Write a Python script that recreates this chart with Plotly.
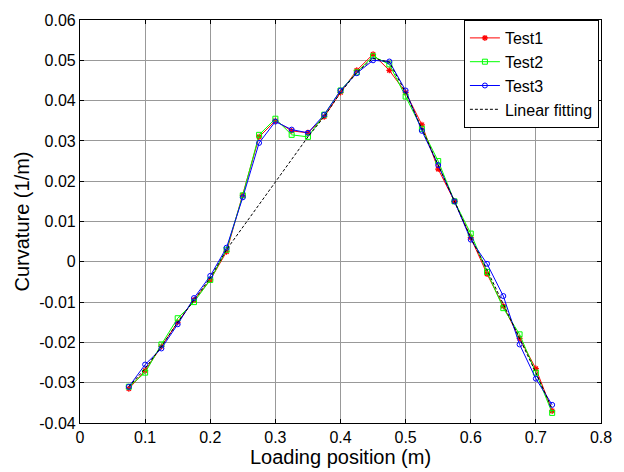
import plotly.graph_objects as go

x = [0.075, 0.1, 0.125, 0.15, 0.175, 0.2, 0.225, 0.25, 0.275, 0.3, 0.325, 0.35, 0.375,
     0.4, 0.425, 0.45, 0.475, 0.5, 0.525, 0.55, 0.575, 0.6, 0.625, 0.65, 0.675, 0.7, 0.725]

test1 = [-0.0315, -0.027, -0.021, -0.015, -0.0095, -0.0045, 0.0025, 0.0165, 0.031, 0.035,
         0.0325, 0.032, 0.036, 0.042, 0.0475, 0.0515, 0.0475, 0.042, 0.034, 0.023, 0.015,
         0.006, -0.003, -0.011, -0.019, -0.0265, -0.037]
test2 = [-0.031, -0.0275, -0.0205, -0.014, -0.010, -0.0045, 0.003, 0.0165, 0.0315, 0.0355,
         0.0315, 0.031, 0.0365, 0.0425, 0.047, 0.051, 0.049, 0.041, 0.033, 0.025, 0.015,
         0.007, -0.0025, -0.0115, -0.018, -0.0275, -0.0375]
test3 = [-0.031, -0.0255, -0.0215, -0.0155, -0.009, -0.0035, 0.0035, 0.016, 0.0295, 0.0348,
         0.0328, 0.032, 0.0365, 0.0425, 0.0468, 0.050, 0.0497, 0.0425, 0.0325, 0.024, 0.015,
         0.0055, -0.0005, -0.0085, -0.0205, -0.029, -0.0355]

x_fit = [0.075, 0.1, 0.125, 0.15, 0.175, 0.2, 0.225, 0.35, 0.375, 0.4, 0.425, 0.45, 0.475,
         0.5, 0.525, 0.55, 0.575, 0.6, 0.625, 0.65, 0.675, 0.7, 0.725]
y_fit = [-0.031, -0.0265, -0.021, -0.015, -0.0095, -0.004, 0.003, 0.031, 0.036, 0.042,
         0.047, 0.0505, 0.0495, 0.042, 0.033, 0.024, 0.015, 0.006, -0.002, -0.0105, -0.019,
         -0.0275, -0.0365]

x_ticks = [0, 0.1, 0.2, 0.3, 0.4, 0.5, 0.6, 0.7, 0.8]
x_labels = ["0", "0.1", "0.2", "0.3", "0.4", "0.5", "0.6", "0.7", "0.8"]
y_ticks = [-0.04, -0.03, -0.02, -0.01, 0, 0.01, 0.02, 0.03, 0.04, 0.05, 0.06]
y_labels = ["-0.04", "-0.03", "-0.02", "-0.01", "0", "0.01", "0.02", "0.03", "0.04", "0.05", "0.06"]

fig = go.Figure()
fig.add_trace(go.Scatter(x=x, y=test1, name="Test1", mode="lines+markers",
                         line=dict(color="#ff0000", width=1),
                         marker=dict(symbol="asterisk-open", size=5,
                                     line=dict(color="#ff0000", width=1.2))))
fig.add_trace(go.Scatter(x=x, y=test2, name="Test2", mode="lines+markers",
                         line=dict(color="#00ff00", width=1),
                         marker=dict(symbol="square-open", size=5, color="#00ff00",
                                     line=dict(color="#00ff00", width=1))))
fig.add_trace(go.Scatter(x=x, y=test3, name="Test3", mode="lines+markers",
                         line=dict(color="#0000ff", width=1),
                         marker=dict(symbol="circle-open", size=5, color="#0000ff",
                                     line=dict(color="#0000ff", width=1))))
fig.add_trace(go.Scatter(x=x_fit, y=y_fit, name="Linear fitting", mode="lines",
                         line=dict(color="#000000", width=1, dash="3px,2px")))

axis_common = dict(showline=True, linecolor="black", linewidth=1.2, mirror="ticks",
                   ticks="inside", ticklen=4, tickcolor="black", showgrid=True,
                   gridcolor="#999999", gridwidth=1, zeroline=False,
                   tickfont=dict(family="Arial", size=16, color="black"))

fig.update_layout(
    width=624, height=472,
    margin=dict(l=80, r=13, t=16, b=45),
    paper_bgcolor="white", plot_bgcolor="white",
    font=dict(family="Arial", size=16, color="black"),
    xaxis=dict(range=[0, 0.8], tickvals=x_ticks, ticktext=x_labels,
               title=dict(text="Loading position (m)", font=dict(size=20), standoff=0),
               **axis_common),
    yaxis=dict(range=[-0.04, 0.06], tickvals=y_ticks, ticktext=y_labels,
               title=dict(text="Curvature (1/m)", font=dict(size=20), standoff=4),
               **axis_common),
    legend=dict(x=0.996, y=1.0, xanchor="right", yanchor="top",
                bgcolor="white", bordercolor="black", borderwidth=1,
                font=dict(family="Arial", size=16), tracegroupgap=0,
                itemwidth=30),
    showlegend=True,
)

fig.write_html("out.html")
